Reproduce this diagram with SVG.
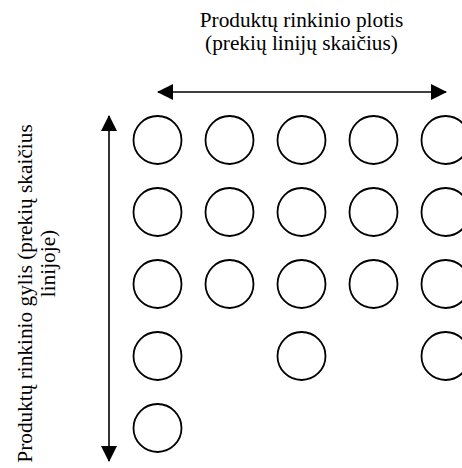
<svg xmlns="http://www.w3.org/2000/svg" width="462" height="468" viewBox="0 0 462 468">
  <defs>
    <style>
      .item { fill: none; stroke: #000; stroke-width: 1.8; }
      .axis { fill: none; stroke: #000; stroke-width: 1.6; }
      .label { font-family: "Liberation Serif", "Times New Roman", serif; font-size: 21.3px; fill: #000; text-anchor: middle; }
    </style>
    <marker id="head" viewBox="0 0 16 16" refX="15" refY="8" markerWidth="16" markerHeight="16" markerUnits="userSpaceOnUse" orient="auto-start-reverse">
      <path d="M0,0 L16,8 L0,16 Z" fill="#000"/>
    </marker>
  </defs>
  <rect width="462" height="468" fill="#fff"/>

  <!-- axis captions -->
  <g id="width-label">
    <text class="label" x="301.5" y="27">Produktų rinkinio plotis</text>
    <text class="label" x="301.5" y="50">(prekių linijų skaičius)</text>
  </g>
  <g id="depth-label" transform="translate(32,293.5) rotate(-90)">
    <text class="label" x="0" y="0">Produktų rinkinio gylis (prekių skaičius</text>
    <text class="label" x="30" y="23">linijoje)</text>
  </g>

  <!-- axis arrows -->
  <g id="connectors">
    <line class="axis" x1="158" y1="92" x2="446" y2="92" marker-start="url(#head)" marker-end="url(#head)"/>
    <line class="axis" x1="109" y1="116" x2="109" y2="461" marker-start="url(#head)" marker-end="url(#head)"/>
  </g>

  <!-- product items: columns = lines, rows = depth -->
  <g id="line-1">
    <circle class="item" cx="157.5" cy="140" r="24"/>
    <circle class="item" cx="157.5" cy="212" r="24"/>
    <circle class="item" cx="157.5" cy="284" r="24"/>
    <circle class="item" cx="157.5" cy="356" r="24"/>
    <circle class="item" cx="157.5" cy="428" r="24"/>
  </g>
  <g id="line-2">
    <circle class="item" cx="229.5" cy="140" r="24"/>
    <circle class="item" cx="229.5" cy="212" r="24"/>
    <circle class="item" cx="229.5" cy="284" r="24"/>
  </g>
  <g id="line-3">
    <circle class="item" cx="301.5" cy="140" r="24"/>
    <circle class="item" cx="301.5" cy="212" r="24"/>
    <circle class="item" cx="301.5" cy="284" r="24"/>
    <circle class="item" cx="301.5" cy="356" r="24"/>
  </g>
  <g id="line-4">
    <circle class="item" cx="373.5" cy="140" r="24"/>
    <circle class="item" cx="373.5" cy="212" r="24"/>
    <circle class="item" cx="373.5" cy="284" r="24"/>
  </g>
  <g id="line-5">
    <circle class="item" cx="445.5" cy="140" r="24"/>
    <circle class="item" cx="445.5" cy="212" r="24"/>
    <circle class="item" cx="445.5" cy="284" r="24"/>
    <circle class="item" cx="445.5" cy="356" r="24"/>
  </g>
</svg>
